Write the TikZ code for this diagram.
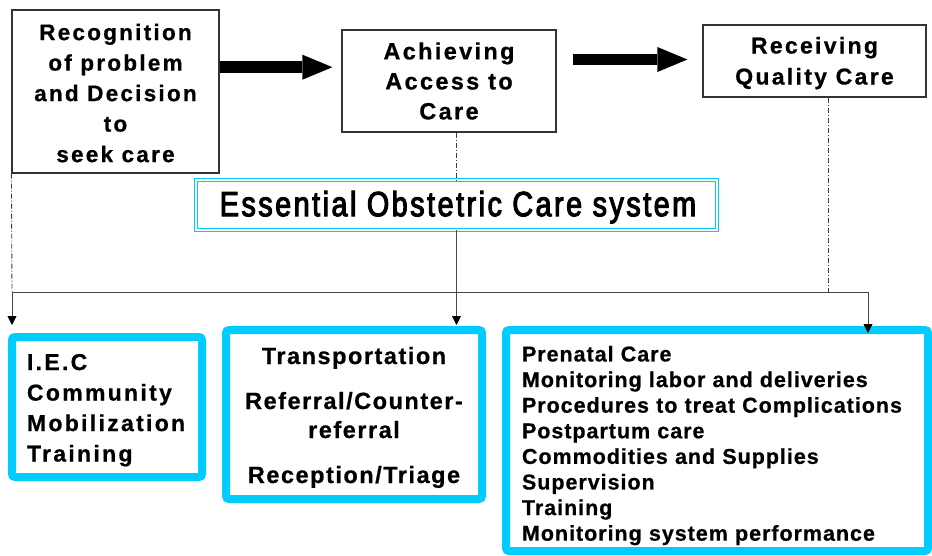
\documentclass[tikz,border=0pt]{standalone}
\usepackage{fontspec}
\usetikzlibrary{arrows.meta}
\setmainfont{Liberation Sans}
\newfontfamily\topf{Liberation Sans}[LetterSpace=10,FakeBold=0.7]
\newfontfamily\midf{Liberation Sans}[LetterSpace=6.5,FakeBold=0.7]
\newfontfamily\listf{Liberation Sans}[LetterSpace=4.5,FakeBold=0.6]
\newfontfamily\eocf{Liberation Sans}[FakeStretch=0.82,LetterSpace=7.2,FakeBold=3]
\newcommand{\lowr}[1]{\rule{0pt}{#1}}
\definecolor{cyanb}{RGB}{0,204,255}
\definecolor{boxgray}{RGB}{51,51,51}
\definecolor{linegray}{RGB}{70,70,70}
\definecolor{dgray}{RGB}{60,60,60}
\begin{document}
\begin{tikzpicture}[x=1pt,y=-1pt,
  topbox/.style={draw=boxgray, line width=1.2pt, fill=white, inner sep=0pt, align=center},
  cyanbox/.style={draw=cyanb, line width=8pt, rounded corners=3pt, fill=white, inner sep=0pt},
  eocbox/.style={draw=cyanb, double=white, double distance=2pt, line width=1.1pt, inner sep=0pt},
  dashdot/.style={draw=dgray, line width=0.9pt, dash pattern=on 5pt off 2pt on 1pt off 2pt},
  hline/.style={draw=linegray, line width=0.9pt},
  arr/.style={draw=linegray, line width=0.9pt, -{Triangle[length=9pt,width=9pt,color=black]}},
  blockarrow/.style={draw=black, line width=11.5pt, -{Triangle[length=30pt,width=25pt,line width=0pt]}}
]
\fill[white] (0,0) rectangle (932,555);
\useasboundingbox (0,0) rectangle (932,555);

% top boxes
\node[topbox, minimum width=207pt, minimum height=163pt,
      font={\topf\bfseries\fontsize{22.5}{30.5}\selectfont}] (b1) at (115.5,91.5)
  {\lowr{19.4pt}Recognition\\of problem\\and Decision\\to\\seek care};
\node[topbox, minimum width=214pt, minimum height=102pt,
      font={\topf\bfseries\fontsize{23.5}{30}\selectfont}] (b2) at (449,81)
  {Achieving\\Access to\\Care};
\node[topbox, minimum width=223pt, minimum height=72pt,
      font={\topf\bfseries\fontsize{23}{31}\selectfont}] (b3) at (814.5,61)
  {\lowr{20.8pt}Receiving\\Quality Care};

% central system box
\node[eocbox, minimum width=520.6pt, minimum height=49.6pt,
      font={\eocf\fontsize{35}{40}\selectfont}] (eoc) at (456.5,205)
  {\lowr{29.6pt}\hspace{3pt}Essential Obstetric Care system};

% bottom boxes
\node[cyanbox, minimum width=190pt, minimum height=140pt, text width=160pt, align=left,
      font={\topf\bfseries\fontsize{23}{30.5}\selectfont}] (bA) at (107,407)
  {\lowr{22.5pt}I.E.C\\Community\\Mobilization\\Training};
\node[cyanbox, minimum width=256pt, minimum height=169pt, align=center,
      font={\midf\bfseries\fontsize{23.5}{29}\selectfont}] (bB) at (354,414.5)
  {\lowr{23pt}Transportation\\[16pt]Referral/Counter-\\referral\\[16pt]Reception/Triage};
\node[cyanbox, minimum width=422pt, minimum height=221pt, text width=390pt, align=left,
      font={\listf\bfseries\fontsize{21.5}{25.6}\selectfont}] (bC) at (717,440.5)
  {\lowr{25.7pt}Prenatal Care\\Monitoring labor and deliveries\\Procedures to treat Complications\\Postpartum care\\Commodities and Supplies\\Supervision\\Training\\Monitoring system performance};

% block arrows
\draw[blockarrow] ([yshift=24.3pt]b1.east) -- ([xshift=-9pt,yshift=13.8pt]b2.west);
\draw[blockarrow] ([xshift=16pt,yshift=21.5pt]b2.east) -- ([xshift=-15pt,yshift=1.5pt]b3.west);

% connector lines
\coordinate (hL) at (12,292);
\coordinate (hR) at (868,292);
\coordinate (d3) at ([xshift=13.5pt]b3.south);
\draw[dashdot] (b1.south west) -- (hL);
\draw[dashdot] (b2.south -| eoc.north) -- (eoc.north);
\draw[dashdot] (d3) -- (d3 |- hR);
\draw[hline] (hL) -- (hR);
\draw[arr, shorten >=8pt] (hL) -- (hL |- bA.north);
\draw[arr, shorten >=1pt] (eoc.south) -- (eoc.south |- bB.north);
\draw[arr, shorten >=-7pt] (hR) -- (hR |- bC.north);
\end{tikzpicture}
\end{document}
